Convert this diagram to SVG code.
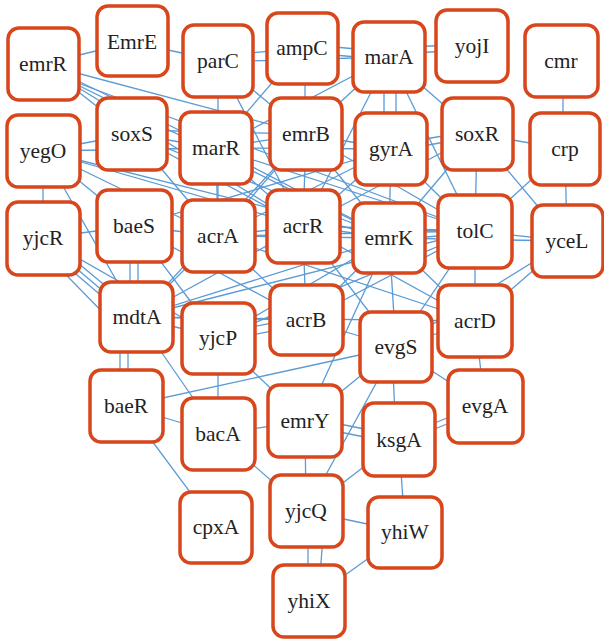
<svg xmlns="http://www.w3.org/2000/svg" width="604" height="641" viewBox="0 0 604 641">
<style>
.n rect{fill:#fff;stroke:#d8461c;stroke-width:3.5}
.n text{font-family:"Liberation Serif","DejaVu Serif",serif;font-size:21.5px;fill:#222;text-anchor:middle}
#edges line{stroke:#5b9bd5;stroke-width:1.3}
</style>
<rect width="604" height="641" fill="#fff"/>
<g id="edges">
<line x1="43" y1="64" x2="132" y2="42"/>
<line x1="43" y1="64" x2="306" y2="134"/>
<line x1="43" y1="64" x2="216" y2="148"/>
<line x1="43" y1="66" x2="303" y2="226"/>
<line x1="43" y1="68" x2="389" y2="238"/>
<line x1="43" y1="70" x2="475" y2="231"/>
<line x1="43" y1="64" x2="132" y2="134"/>
<line x1="132" y1="42" x2="218" y2="61"/>
<line x1="218" y1="56" x2="302" y2="48"/>
<line x1="218" y1="62" x2="389" y2="57"/>
<line x1="302" y1="44" x2="389" y2="52"/>
<line x1="302" y1="52" x2="389" y2="60"/>
<line x1="389" y1="48" x2="472" y2="44"/>
<line x1="389" y1="54" x2="472" y2="50"/>
<line x1="305" y1="48" x2="305" y2="134"/>
<line x1="302" y1="48" x2="216" y2="148"/>
<line x1="218" y1="61" x2="306" y2="134"/>
<line x1="218" y1="61" x2="303" y2="226"/>
<line x1="218" y1="61" x2="218" y2="236"/>
<line x1="389" y1="57" x2="477" y2="134"/>
<line x1="384" y1="57" x2="384" y2="149"/>
<line x1="396" y1="57" x2="396" y2="149"/>
<line x1="389" y1="57" x2="306" y2="134"/>
<line x1="389" y1="57" x2="303" y2="226"/>
<line x1="389" y1="57" x2="216" y2="148"/>
<line x1="389" y1="57" x2="475" y2="231"/>
<line x1="563" y1="61" x2="563" y2="149"/>
<line x1="477" y1="134" x2="565" y2="149"/>
<line x1="477" y1="130" x2="391" y2="145"/>
<line x1="477" y1="136" x2="391" y2="152"/>
<line x1="477" y1="134" x2="389" y2="238"/>
<line x1="477" y1="134" x2="475" y2="231"/>
<line x1="477" y1="134" x2="303" y2="226"/>
<line x1="477" y1="134" x2="567" y2="241"/>
<line x1="565" y1="149" x2="475" y2="231"/>
<line x1="565" y1="149" x2="567" y2="241"/>
<line x1="475" y1="231" x2="567" y2="241"/>
<line x1="567" y1="241" x2="475" y2="321"/>
<line x1="567" y1="241" x2="389" y2="238"/>
<line x1="567" y1="241" x2="396" y2="347"/>
<line x1="132" y1="134" x2="216" y2="148"/>
<line x1="132" y1="130" x2="306" y2="134"/>
<line x1="132" y1="134" x2="303" y2="226"/>
<line x1="132" y1="134" x2="389" y2="238"/>
<line x1="132" y1="134" x2="218" y2="236"/>
<line x1="132" y1="134" x2="43" y2="151"/>
<line x1="216" y1="148" x2="306" y2="134"/>
<line x1="216" y1="148" x2="391" y2="149"/>
<line x1="216" y1="148" x2="303" y2="226"/>
<line x1="216" y1="148" x2="389" y2="238"/>
<line x1="216" y1="148" x2="475" y2="231"/>
<line x1="216" y1="148" x2="218" y2="236"/>
<line x1="216" y1="148" x2="43" y2="151"/>
<line x1="306" y1="134" x2="391" y2="149"/>
<line x1="306" y1="134" x2="303" y2="226"/>
<line x1="306" y1="134" x2="389" y2="238"/>
<line x1="306" y1="134" x2="475" y2="231"/>
<line x1="306" y1="134" x2="218" y2="236"/>
<line x1="306" y1="134" x2="137" y2="317"/>
<line x1="391" y1="149" x2="303" y2="226"/>
<line x1="391" y1="149" x2="389" y2="238"/>
<line x1="391" y1="149" x2="475" y2="231"/>
<line x1="391" y1="149" x2="218" y2="236"/>
<line x1="391" y1="149" x2="134" y2="226"/>
<line x1="43" y1="151" x2="134" y2="226"/>
<line x1="43" y1="151" x2="43" y2="238"/>
<line x1="43" y1="151" x2="218" y2="236"/>
<line x1="43" y1="151" x2="303" y2="226"/>
<line x1="43" y1="151" x2="137" y2="317"/>
<line x1="43" y1="151" x2="389" y2="238"/>
<line x1="43" y1="238" x2="134" y2="226"/>
<line x1="43" y1="234" x2="137" y2="312"/>
<line x1="43" y1="240" x2="137" y2="320"/>
<line x1="43" y1="246" x2="137" y2="326"/>
<line x1="43" y1="238" x2="218" y2="338"/>
<line x1="30" y1="238" x2="120" y2="330"/>
<line x1="134" y1="226" x2="218" y2="236"/>
<line x1="130" y1="226" x2="130" y2="317"/>
<line x1="138" y1="226" x2="138" y2="317"/>
<line x1="134" y1="226" x2="306" y2="320"/>
<line x1="134" y1="226" x2="218" y2="338"/>
<line x1="218" y1="236" x2="303" y2="226"/>
<line x1="218" y1="236" x2="389" y2="238"/>
<line x1="218" y1="236" x2="475" y2="231"/>
<line x1="218" y1="236" x2="137" y2="317"/>
<line x1="218" y1="236" x2="306" y2="320"/>
<line x1="218" y1="236" x2="475" y2="321"/>
<line x1="303" y1="226" x2="389" y2="238"/>
<line x1="303" y1="226" x2="475" y2="231"/>
<line x1="303" y1="226" x2="306" y2="320"/>
<line x1="303" y1="226" x2="137" y2="317"/>
<line x1="303" y1="226" x2="475" y2="321"/>
<line x1="303" y1="226" x2="396" y2="347"/>
<line x1="389" y1="234" x2="475" y2="227"/>
<line x1="389" y1="240" x2="475" y2="233"/>
<line x1="389" y1="238" x2="475" y2="321"/>
<line x1="389" y1="238" x2="306" y2="320"/>
<line x1="389" y1="238" x2="137" y2="317"/>
<line x1="389" y1="238" x2="218" y2="338"/>
<line x1="389" y1="238" x2="396" y2="347"/>
<line x1="389" y1="238" x2="305" y2="421"/>
<line x1="475" y1="231" x2="475" y2="321"/>
<line x1="475" y1="231" x2="137" y2="317"/>
<line x1="475" y1="231" x2="306" y2="320"/>
<line x1="475" y1="231" x2="218" y2="338"/>
<line x1="475" y1="231" x2="396" y2="347"/>
<line x1="137" y1="317" x2="218" y2="338"/>
<line x1="137" y1="317" x2="306" y2="320"/>
<line x1="120" y1="317" x2="120" y2="406"/>
<line x1="128" y1="317" x2="128" y2="406"/>
<line x1="137" y1="317" x2="218" y2="434"/>
<line x1="137" y1="317" x2="475" y2="321"/>
<line x1="218" y1="334" x2="306" y2="316"/>
<line x1="218" y1="342" x2="306" y2="324"/>
<line x1="218" y1="338" x2="305" y2="421"/>
<line x1="218" y1="338" x2="218" y2="434"/>
<line x1="306" y1="320" x2="396" y2="347"/>
<line x1="475" y1="321" x2="396" y2="347"/>
<line x1="475" y1="321" x2="485" y2="406"/>
<line x1="126" y1="406" x2="396" y2="347"/>
<line x1="126" y1="406" x2="218" y2="434"/>
<line x1="126" y1="406" x2="216" y2="527"/>
<line x1="218" y1="434" x2="305" y2="421"/>
<line x1="218" y1="434" x2="306" y2="511"/>
<line x1="305" y1="421" x2="396" y2="347"/>
<line x1="305" y1="417" x2="399" y2="436"/>
<line x1="305" y1="425" x2="399" y2="444"/>
<line x1="305" y1="421" x2="306" y2="511"/>
<line x1="396" y1="347" x2="485" y2="406"/>
<line x1="392" y1="347" x2="396" y2="440"/>
<line x1="396" y1="347" x2="306" y2="511"/>
<line x1="399" y1="437" x2="485" y2="403"/>
<line x1="399" y1="443" x2="485" y2="409"/>
<line x1="399" y1="440" x2="306" y2="511"/>
<line x1="399" y1="440" x2="405" y2="532"/>
<line x1="306" y1="511" x2="405" y2="532"/>
<line x1="308" y1="511" x2="308" y2="601"/>
<line x1="325" y1="511" x2="318" y2="601"/>
<line x1="405" y1="532" x2="309" y2="601"/>
</g>
<g id="emrR" class="n"><rect x="8" y="28" width="71" height="72" rx="11"/><text x="43" y="71">emrR</text></g>
<g id="EmrE" class="n"><rect x="97" y="6" width="71" height="70" rx="11"/><text x="132" y="49">EmrE</text></g>
<g id="parC" class="n"><rect x="183" y="25" width="70" height="72" rx="11"/><text x="218" y="68">parC</text></g>
<g id="ampC" class="n"><rect x="267" y="13" width="71" height="71" rx="11"/><text x="302" y="55">ampC</text></g>
<g id="marA" class="n"><rect x="353" y="22" width="72" height="70" rx="11"/><text x="389" y="64">marA</text></g>
<g id="yojI" class="n"><rect x="436" y="10" width="72" height="72" rx="11"/><text x="472" y="53">yojI</text></g>
<g id="cmr" class="n"><rect x="525" y="25" width="73" height="72" rx="11"/><text x="561" y="68">cmr</text></g>
<g id="soxS" class="n"><rect x="97" y="98" width="70" height="72" rx="11"/><text x="132" y="141">soxS</text></g>
<g id="marR" class="n"><rect x="180" y="112" width="72" height="72" rx="11"/><text x="216" y="155">marR</text></g>
<g id="emrB" class="n"><rect x="270" y="98" width="72" height="72" rx="11"/><text x="306" y="141">emrB</text></g>
<g id="gyrA" class="n"><rect x="355" y="113" width="72" height="72" rx="11"/><text x="391" y="156">gyrA</text></g>
<g id="soxR" class="n"><rect x="442" y="98" width="71" height="72" rx="11"/><text x="477" y="141">soxR</text></g>
<g id="crp" class="n"><rect x="530" y="113" width="70" height="72" rx="11"/><text x="565" y="156">crp</text></g>
<g id="yegO" class="n"><rect x="7" y="115" width="73" height="72" rx="11"/><text x="43" y="158">yegO</text></g>
<g id="yjcR" class="n"><rect x="7" y="202" width="73" height="73" rx="11"/><text x="43" y="245">yjcR</text></g>
<g id="baeS" class="n"><rect x="97" y="190" width="75" height="72" rx="11"/><text x="134" y="233">baeS</text></g>
<g id="acrA" class="n"><rect x="182" y="200" width="73" height="72" rx="11"/><text x="218" y="243">acrA</text></g>
<g id="acrR" class="n"><rect x="267" y="190" width="73" height="73" rx="11"/><text x="303" y="233">acrR</text></g>
<g id="emrK" class="n"><rect x="353" y="203" width="72" height="70" rx="11"/><text x="389" y="245">emrK</text></g>
<g id="tolC" class="n"><rect x="438" y="195" width="74" height="73" rx="11"/><text x="475" y="238">tolC</text></g>
<g id="yceL" class="n"><rect x="532" y="205" width="71" height="72" rx="11"/><text x="567" y="248">yceL</text></g>
<g id="mdtA" class="n"><rect x="100" y="282" width="73" height="70" rx="11"/><text x="137" y="324">mdtA</text></g>
<g id="acrB" class="n"><rect x="270" y="285" width="73" height="70" rx="11"/><text x="306" y="327">acrB</text></g>
<g id="acrD" class="n"><rect x="438" y="285" width="74" height="72" rx="11"/><text x="475" y="328">acrD</text></g>
<g id="yjcP" class="n"><rect x="182" y="303" width="73" height="71" rx="11"/><text x="218" y="345">yjcP</text></g>
<g id="evgS" class="n"><rect x="360" y="312" width="72" height="70" rx="11"/><text x="396" y="354">evgS</text></g>
<g id="baeR" class="n"><rect x="90" y="370" width="73" height="72" rx="11"/><text x="126" y="413">baeR</text></g>
<g id="evgA" class="n"><rect x="448" y="370" width="75" height="73" rx="11"/><text x="485" y="413">evgA</text></g>
<g id="emrY" class="n"><rect x="268" y="385" width="74" height="72" rx="11"/><text x="305" y="428">emrY</text></g>
<g id="bacA" class="n"><rect x="182" y="398" width="73" height="72" rx="11"/><text x="218" y="441">bacA</text></g>
<g id="ksgA" class="n"><rect x="363" y="403" width="72" height="73" rx="11"/><text x="399" y="447">ksgA</text></g>
<g id="yjcQ" class="n"><rect x="270" y="475" width="73" height="72" rx="11"/><text x="306" y="518">yjcQ</text></g>
<g id="cpxA" class="n"><rect x="180" y="492" width="72" height="71" rx="11"/><text x="216" y="534">cpxA</text></g>
<g id="yhiW" class="n"><rect x="368" y="497" width="74" height="71" rx="11"/><text x="405" y="539">yhiW</text></g>
<g id="yhiX" class="n"><rect x="273" y="565" width="72" height="72" rx="11"/><text x="309" y="608">yhiX</text></g>
</svg>
